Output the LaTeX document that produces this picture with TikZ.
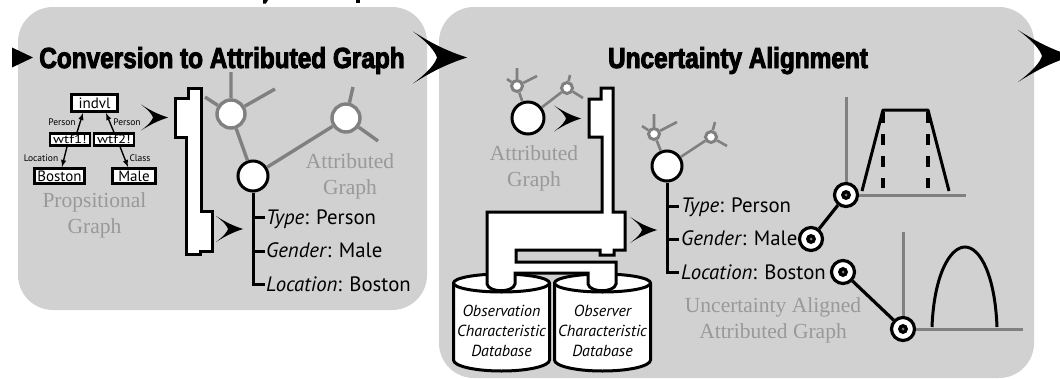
\documentclass[tikz,border=0pt]{standalone}
\usepackage{fontspec}
\setmainfont{PT Sans}
\newfontfamily\headfont[FakeStretch=.84,FakeBold=3.2]{Liberation Sans}
\newfontfamily\greyfont{Liberation Serif}
\definecolor{panelgrey}{HTML}{D1D1D1}
\definecolor{edgegrey}{HTML}{808080}
\definecolor{textgrey}{HTML}{999999}
\tikzset{
    panel/.style={fill=panelgrey, rounded corners=35pt},
    heading/.style={font=\headfont\bfseries\fontsize{29}{29}\selectfont, anchor=base},
    greytext/.style={font=\greyfont\fontsize{21.5}{26}\selectfont, text=textgrey, align=center, inner sep=0pt},
    attrtext/.style={font=\fontsize{20.8}{20.8}\selectfont, anchor=base west, inner sep=0pt},
    dbtext/.style={font=\itshape\fontsize{16}{20}\selectfont, align=center, inner sep=0pt},
    propbox/.style={draw=black, fill=white, line width=3pt, font=\fontsize{15}{15}\selectfont, inner sep=0pt},
    wtfbox/.style={propbox, line width=2.2pt, minimum width=40pt, minimum height=12pt, font=\fontsize{12}{12}\selectfont},
    proplabel/.style={font=\fontsize{9.5}{9.5}\selectfont, inner sep=0pt},
    proparrow/.style={-latex, line width=1.4pt},
    greyline/.style={edgegrey, line width=3.4pt},
    thinline/.style={edgegrey, line width=2.6pt},
    spine/.style={black, line width=3pt},
    vertex/.style={circle, fill=white, draw=edgegrey, line width=3.4pt, minimum size=28pt, inner sep=0pt},
    smallvertex/.style={circle, fill=white, draw=edgegrey, line width=3pt, minimum size=11pt, inner sep=0pt},
    blackvertex/.style={circle, fill=white, draw=black, line width=3pt, minimum size=30pt, inner sep=0pt},
    bracket/.style={draw=black, fill=white, line width=3pt, line join=miter},
    target/.style={circle, fill=white, draw=black, line width=3.2pt, minimum size=23pt, inner sep=0pt,
        path picture={
            \fill[black] (path picture bounding box.center) circle (5pt);
            \fill[edgegrey] (path picture bounding box.center) circle (1.5pt);
        }},
    chevron/.pic={
        \fill[black] (0,-13) .. controls (11,-6) and (18,-3) .. (27,0)
            .. controls (18,3) and (11,6) .. (0,13)
            .. controls (8,7) and (11,3) .. (12,0)
            .. controls (11,-3) and (8,-7) .. (0,-13) -- cycle;
    },
}
\begin{document}
\begin{tikzpicture}[x=1pt, y=-1pt]
    \useasboundingbox (0,0) rectangle (1060,378);
    \clip (0,0) rectangle (1060,378);
    \fill[white] (0,0) rectangle (1060,378);
    \fill[black] (263,0) -- (268,0) -- (266,3.5) -- (263,3.5) -- cycle;
    \fill[black] (355.5,0) -- (359.5,0) -- (359.5,3) -- (355.5,3) -- cycle;
    \path[panel] (18,7) rectangle (427,310);
    \path[panel] (439,7) rectangle (1034,378);

    \fill[black] (12,47.5) -- (33,57.5) -- (12,67.5) -- cycle;
    \pic[scale=2] at (413,57.5) {chevron};
    \pic[scale=2] at (1018,56) {chevron};
    \node[heading] (convtitle) at (222,68) {Conversion to Attributed Graph};
    \node[heading] (aligntitle) at (738,68) {Uncertainty Alignment};

    \node[propbox, minimum width=46pt, minimum height=17pt] (indvl) at (94.5,103) {indvl};
    \node[wtfbox] (wtfone) at (70,139.5) {\scalebox{1.25}[1]{wtf1!}};
    \node[wtfbox] (wtftwo) at (114,139.5) {\scalebox{1.25}[1]{wtf2!}};
    \node[propbox, minimum width=50pt, minimum height=15pt] (boston) at (59.5,176) {Boston};
    \node[propbox, minimum width=43pt, minimum height=15pt] (male) at (134,176) {Male};
    \draw[proparrow] ([xshift=7pt]wtfone.north) -- ([xshift=-11.5pt]indvl.south);
    \draw[proparrow] (wtftwo.north) -- ([xshift=11.5pt]indvl.south);
    \draw[proparrow] ([xshift=-3pt]wtfone.south) -- ([xshift=2.5pt]boston.north);
    \draw[proparrow] ([xshift=6pt]wtftwo.south) -- ([xshift=-6pt]male.north);
    \node[proplabel] (personone) at (62,122) {Person};
    \node[proplabel] (persontwo) at (127,122) {Person};
    \node[proplabel] (location) at (41,158) {Location};
    \node[proplabel] (class) at (140,158) {Class};
    \node[greytext] (proptext) at (94.5,215) {Propsitional\\Graph};
    \pic at (141,117.5) {chevron};
    \pic at (216,229) {chevron};

    \draw[bracket] (201,88) -- (188,88) -- (188,98) -- (175,98) -- (175,137) -- (186,137) -- (186,254)
        -- (200,254) -- (200,251) -- (212,251) -- (212,211) -- (201,211) -- cycle;

    \node[vertex] (attra) at (231,114) {};
    \node[vertex] (attrb) at (346,118) {};
    \node[blackvertex] (attrc) at (253,176) {};
    \coordinate (aup) at (231,72);
    \coordinate (aleft) at (205,97);
    \coordinate (aright) at (275,89);
    \coordinate (bup) at (353,87);
    \coordinate (bdown) at (378,141);
    \draw[greyline] (attra) -- (aup) (attra) -- (aleft) (attra) -- (aright);
    \draw[greyline] (attrb) -- (bup) (attrb) -- (bdown);
    \draw[greyline] (attra) -- (attrc) (attrb) -- (attrc);
    \node[greytext] (attrtext) at (350,176) {Attributed\\Graph};
    \coordinate (typetick) at (253,217);
    \coordinate (gendertick) at (253,251);
    \coordinate (loctick) at (253,284);
    \draw[spine] (attrc) -- (loctick) -- ++(12,0);
    \draw[spine] (typetick) -- ++(12,0);
    \draw[spine] (gendertick) -- ++(12,0);
    \node[attrtext] (typetext) at (266,224) {\textit{Type}: Person};
    \node[attrtext] (gendertext) at (266,257) {\textit{Gender}: Male};
    \node[attrtext] (loctext) at (266,291) {\textit{Location}: Boston};

    \node[smallvertex] (inone) at (517,86) {};
    \node[smallvertex] (intwo) at (567,88) {};
    \node[blackvertex, minimum size=32pt] (inbig) at (528,118) {};
    \coordinate (inoneup) at (517,68);
    \coordinate (inoneleft) at (507,79);
    \coordinate (inoneright) at (537,76);
    \coordinate (intwoup) at (570,75);
    \coordinate (intwodown) at (583,98);
    \draw[thinline] (inone) -- (inoneup) (inone) -- (inoneleft) (inone) -- (inoneright);
    \draw[thinline] (intwo) -- (intwoup) (intwo) -- (intwodown);
    \draw[thinline] (inone) -- (inbig) (intwo) -- (inbig);
    \node[greytext] (intext) at (534,168) {Attributed\\Graph};
    \pic at (554,118.5) {chevron};

    \foreach \x in {501.5,602.5} {
        \draw[black, fill=white, line width=3pt] (\x-48,283) arc (180:360:48 and 9) -- (\x+48,360)
            arc (0:180:48 and 11) -- cycle;
        \draw[black, line width=3pt] (\x-48,283) arc (180:0:48 and 9);
    }
    \node[dbtext] (obsdb) at (501.5,331) {Observation\\Characteristic\\Database};
    \node[dbtext] (obrdb) at (602.5,331) {Observer\\Characteristic\\Database};

    \draw[bracket] (613,88) -- (601,88) -- (601,99) -- (589,99) -- (589,137) -- (602,137) -- (602,212)
        -- (487,212) -- (487,284) .. controls (489,293) and (513,293) .. (515,284) -- (515,273)
        -- (588,273) -- (588,284) .. controls (590,293) and (614,293) .. (616,284) -- (616,262)
        -- (516,262) -- (516,250) -- (600,250) -- (600,255) -- (614,255) -- (614,250) -- (625,250)
        -- (625,212) -- (613,212) -- cycle;
    \pic at (630,230) {chevron};

    \node[smallvertex] (outone) at (654,134) {};
    \node[smallvertex] (outtwo) at (711,137) {};
    \node[blackvertex] (outbig) at (667,166) {};
    \coordinate (outoneup) at (654,114);
    \coordinate (outoneleft) at (642,126);
    \coordinate (outoneright) at (677,122);
    \coordinate (outtwoup) at (715,122);
    \coordinate (outtwodown) at (727,146);
    \draw[thinline] (outone) -- (outoneup) (outone) -- (outoneleft) (outone) -- (outoneright);
    \draw[thinline] (outtwo) -- (outtwoup) (outtwo) -- (outtwodown);
    \draw[thinline] (outone) -- (outbig) (outtwo) -- (outbig);
    \coordinate (outtypetick) at (667,206);
    \coordinate (outgendertick) at (667,239);
    \coordinate (outloctick) at (667,272);
    \draw[spine] (outbig) -- (outloctick) -- ++(12,0);
    \draw[spine] (outtypetick) -- ++(12,0);
    \draw[spine] (outgendertick) -- ++(12,0);
    \node[attrtext] (outtypetext) at (681,212) {\textit{Type}: Person};
    \node[attrtext] (outgendertext) at (681,245) {\textit{Gender}: Male};
    \node[attrtext] (outloctext) at (681,279) {\textit{Location}: Boston};
    \node[greytext] (outtext) at (773,320) {Uncertainty Aligned\\Attributed Graph};

    \coordinate (upperaxisy) at (846,97);
    \coordinate (upperaxisx) at (966,195);
    \coordinate (loweraxisy) at (903,232);
    \coordinate (loweraxisx) at (1023,329);
    \node[target] (typedot) at (846,195) {};
    \node[target] (genderdot) at (811,239) {};
    \node[target] (locdot) at (843,272) {};
    \node[target] (lowerdot) at (903,329) {};
    \draw[edgegrey, line width=3pt] (typedot) -- (upperaxisy) (typedot) -- (upperaxisx);
    \draw[edgegrey, line width=3pt] (lowerdot) -- (loweraxisy) (lowerdot) -- (loweraxisx);
    \draw[black, line width=3.2pt] (typedot) -- (genderdot);
    \draw[black, line width=3.2pt] (locdot) -- (lowerdot);
    \draw[black, line width=3pt, line join=round] (862,191) -- (883,110) -- (928,110) -- (949,191);
    \draw[black, line width=3.6pt, dash pattern=on 11pt off 11pt] (883,112) -- (883,188);
    \draw[black, line width=3.6pt, dash pattern=on 11pt off 11pt] (928,112) -- (928,188);
    \draw[black, line width=3pt] (932,327) .. controls (934,275) and (950,247) .. (965,247)
        .. controls (980,247) and (995,275) .. (997,327);
\end{tikzpicture}
\end{document}
